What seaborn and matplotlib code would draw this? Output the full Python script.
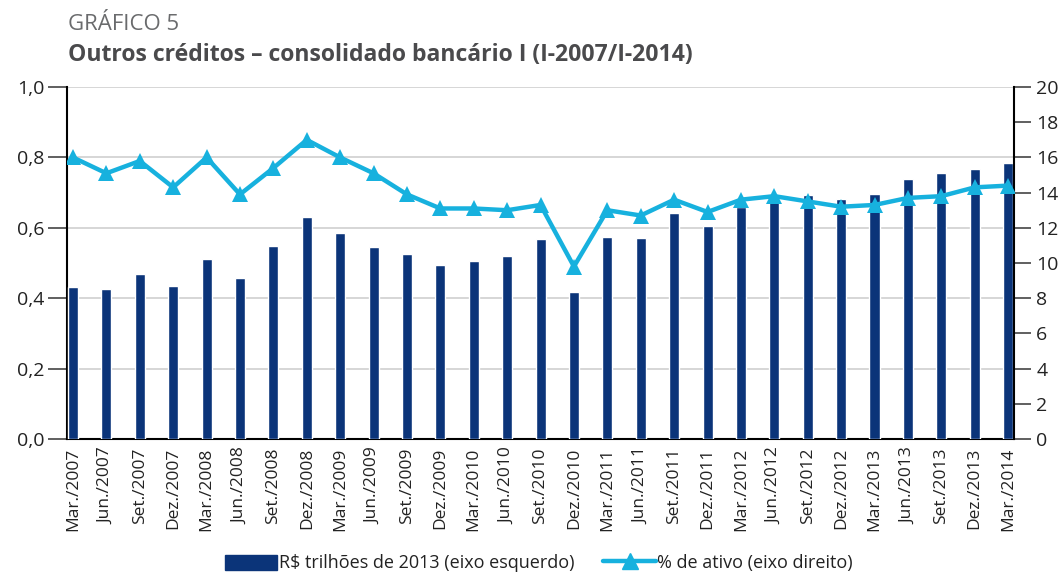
import numpy as np
import pandas as pd
import matplotlib
matplotlib.use("Agg")
import matplotlib.pyplot as plt
import seaborn as sns
from matplotlib.lines import Line2D
from matplotlib.patches import Patch

periods = ["Mar./2007", "Jun./2007", "Set./2007", "Dez./2007",
           "Mar./2008", "Jun./2008", "Set./2008", "Dez./2008",
           "Mar./2009", "Jun./2009", "Set./2009", "Dez./2009",
           "Mar./2010", "Jun./2010", "Set./2010", "Dez./2010",
           "Mar./2011", "Jun./2011", "Set./2011", "Dez./2011",
           "Mar./2012", "Jun./2012", "Set./2012", "Dez./2012",
           "Mar./2013", "Jun./2013", "Set./2013", "Dez./2013",
           "Mar./2014"]
valor_trilhoes = [0.431, 0.427, 0.468, 0.435, 0.511, 0.456, 0.549, 0.631,
                  0.585, 0.545, 0.527, 0.493, 0.505, 0.520, 0.567, 0.417,
                  0.575, 0.570, 0.641, 0.605, 0.660, 0.683, 0.692, 0.682,
                  0.696, 0.738, 0.755, 0.767, 0.785]
pct_ativo = [16.0, 15.1, 15.8, 14.3, 16.0, 13.9, 15.4, 17.0,
             16.0, 15.1, 13.9, 13.1, 13.1, 13.0, 13.3, 9.8,
             13.0, 12.7, 13.6, 12.9, 13.6, 13.8, 13.5, 13.2,
             13.3, 13.7, 13.8, 14.3, 14.4]
left_ticks = [0.0, 0.2, 0.4, 0.6, 0.8, 1.0]
right_ticks = [0, 2, 4, 6, 8, 10, 12, 14, 16, 18, 20]
label_bar = "R$ trilhões de 2013 (eixo esquerdo)"
label_line = "% de ativo (eixo direito)"
super_title = "GRÁFICO 5"
main_title = "Outros créditos – consolidado bancário I (I-2007/I-2014)"

BAR = "#0b3479"
LINE = "#17b1de"

sns.set_theme(style="white")
plt.rcParams["font.family"] = ["Open Sans", "DejaVu Sans"]

df = pd.DataFrame({"periodo": periods, "valor": valor_trilhoes,
                   "pct": pct_ativo, "idx": np.arange(len(periods))})

fig = plt.figure(figsize=(10.63, 5.73), dpi=100)
ax = fig.add_axes([0.063, 0.234, 0.891, 0.614])

sns.barplot(data=df, x="periodo", y="valor", color=BAR, width=0.3,
            saturation=1, ax=ax, zorder=3)
ax.set_xlim(-0.18, len(periods) - 1 + 0.18)
ax.set_ylim(0, 1.0)
ax.set_yticks(left_ticks)
ax.set_yticklabels([f"{t:.1f}".replace(".", ",") for t in left_ticks])
ax.yaxis.grid(True, color="#cfcfcf", linewidth=1.2, zorder=0)
ax.set_axisbelow(True)
ax.set_xlabel("")
ax.set_ylabel("")
ax.tick_params(axis="x", rotation=90, labelsize=12.5, length=0, pad=6,
               colors="#222222")
ax.tick_params(axis="y", labelsize=14, length=14, width=1.2,
               pad=2, colors="#222222")
ax.tick_params(axis="y", color="#444444")
for s in ["left", "bottom"]:
    ax.spines[s].set_color("black")
    ax.spines[s].set_linewidth(1.5)
ax.spines["top"].set_visible(False)
ax.spines["right"].set_visible(False)

ax2 = ax.twinx()
sns.lineplot(data=df, x="idx", y="pct", ax=ax2, color=LINE, linewidth=3.2,
             marker="^", markersize=11, markeredgecolor=LINE,
             markeredgewidth=0, zorder=4)
ax2.set_ylim(0, 20)
ax2.set_yticks(right_ticks)
ax2.set_yticklabels([str(t) for t in right_ticks])
ax2.set_xlim(-0.18, len(periods) - 1 + 0.18)
ax2.set_ylabel("")
ax2.set_xlabel("")
ax2.tick_params(axis="y", labelsize=14, length=12, width=1.2,
                pad=4, colors="#222222")
ax2.tick_params(axis="y", color="#444444")
ax2.spines["right"].set_color("black")
ax2.spines["right"].set_linewidth(1.5)
for s in ["top", "left", "bottom"]:
    ax2.spines[s].set_visible(False)

fig.text(0.064, 0.948, super_title, fontsize=16, color="#6a6b6d",
         ha="left", va="baseline")
fig.text(0.064, 0.893, main_title, fontsize=16.6, color="#4a4a4c",
         ha="left", va="baseline", fontweight="bold")

handles = [Patch(facecolor=BAR, edgecolor=BAR),
           Line2D([0], [0], color=LINE, linewidth=3.2, marker="^",
                  markersize=12)]
fig.legend(handles, [label_bar, label_line], loc="center",
           bbox_to_anchor=(0.507, 0.017), ncol=2, frameon=False,
           fontsize=13, handlelength=2.9, handleheight=0.9,
           columnspacing=1.6, handletextpad=0.1, labelcolor="#222222")

fig.savefig("out.png", dpi=100)
